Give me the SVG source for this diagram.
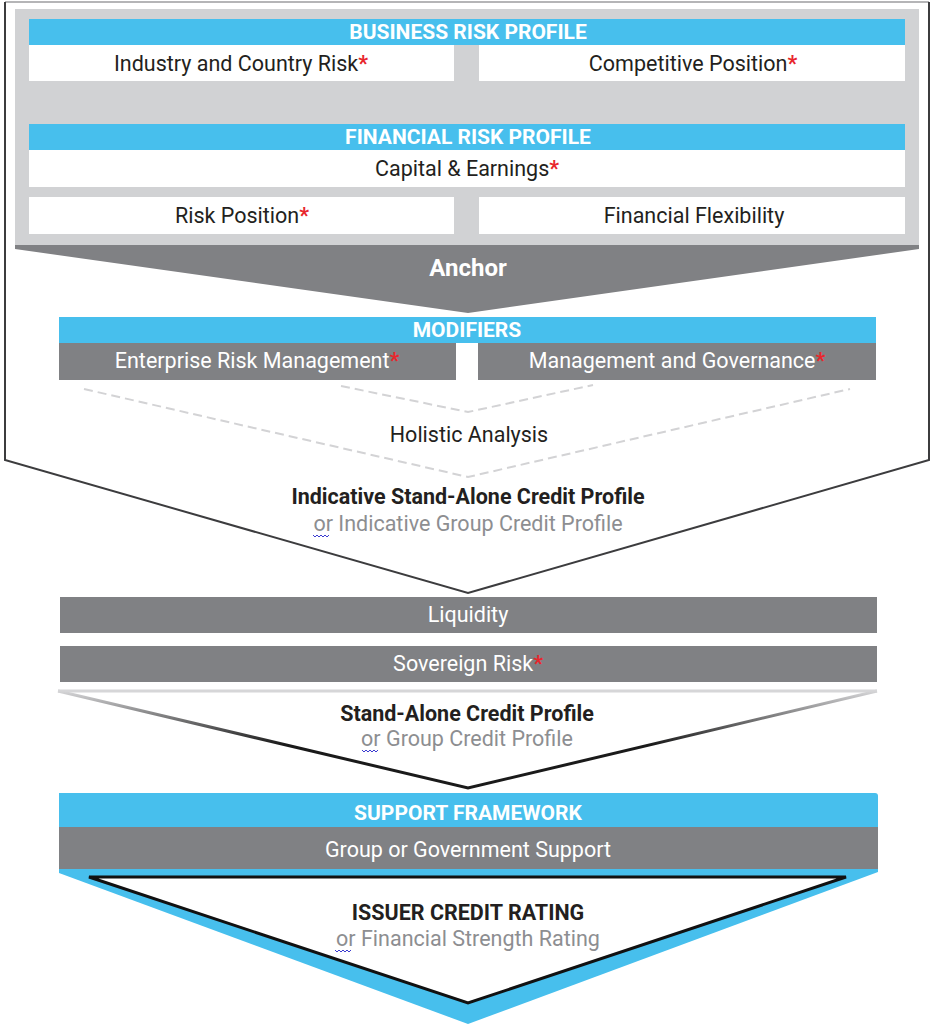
<svg xmlns="http://www.w3.org/2000/svg" width="931" height="1025" viewBox="0 0 931 1025">
<defs>
<style>
text{font-family:Roboto,"Liberation Sans",Arial,sans-serif;text-anchor:middle}
.hdr{font-size:21px;font-weight:700;fill:#ffffff}
.wt{font-size:21.5px;fill:#231f20}
.gt{font-size:21.5px;fill:#ffffff}
.bt{font-size:21.5px;font-weight:700;fill:#231f20}
.st{font-size:21.5px;fill:#8d8e91}
.ast{fill:#e8262c;font-weight:700}
.blue{fill:#47bfed}
.grey{fill:#808184}
.white{fill:#ffffff}
.dash{fill:none;stroke:#d3d3d5;stroke-width:2;stroke-dasharray:9 5}
.squig{fill:none;stroke:#3b3bd0;stroke-width:1}
</style>
<linearGradient id="fade" gradientUnits="userSpaceOnUse" x1="0" y1="691" x2="0" y2="745">
<stop offset="0" stop-color="#d6d6d8"/>
<stop offset="1" stop-color="#1a1a1a"/>
</linearGradient>
</defs>

<g id="outer-frame">
<polygon points="5,2 929,2 929,460 468,593 5,460" fill="#ffffff" stroke="none"/>
<polyline points="5,2 929,2" fill="none" stroke="#b5b5b7" stroke-width="2"/>
<polyline points="929,2 929,460 468,593 5,460 5,2" fill="none" stroke="#3c3c3e" stroke-width="2"/>
</g>

<g id="top-panel">
<rect x="15" y="9" width="904" height="237" fill="#d1d2d4"/>
</g>

<g id="business-risk-profile">
<rect class="blue" x="29" y="19" width="876" height="26"/>
<text class="hdr" x="468" y="39">BUSINESS RISK PROFILE</text>
</g>
<g id="industry-country-risk">
<rect class="white" x="29" y="45" width="425" height="36"/>
<text class="wt" x="241" y="71">Industry and Country Risk<tspan class="ast">*</tspan></text>
</g>
<g id="competitive-position">
<rect class="white" x="479" y="45" width="426" height="36"/>
<text class="wt" x="693" y="71">Competitive Position<tspan class="ast">*</tspan></text>
</g>

<g id="financial-risk-profile">
<rect class="blue" x="29" y="124" width="876" height="26"/>
<text class="hdr" x="468" y="144">FINANCIAL RISK PROFILE</text>
</g>
<g id="capital-earnings">
<rect class="white" x="29" y="150" width="876" height="37"/>
<text class="wt" x="467" y="176">Capital &amp; Earnings<tspan class="ast">*</tspan></text>
</g>
<g id="risk-position">
<rect class="white" x="29" y="197" width="425" height="37"/>
<text class="wt" x="242" y="223">Risk Position<tspan class="ast">*</tspan></text>
</g>
<g id="financial-flexibility">
<rect class="white" x="479" y="197" width="426" height="37"/>
<text class="wt" x="694" y="223">Financial Flexibility</text>
</g>

<g id="anchor">
<polygon class="grey" points="15,245 919,245 919,249 468,313 15,249"/>
<text x="468" y="276" style="font-size:24px;font-weight:700;fill:#ffffff">Anchor</text>
</g>

<g id="modifiers">
<rect class="blue" x="59" y="317" width="817" height="26"/>
<text class="hdr" x="467" y="337">MODIFIERS</text>
</g>
<g id="enterprise-risk-management">
<rect class="grey" x="59" y="343" width="397" height="37"/>
<text class="gt" x="257" y="368">Enterprise Risk Management<tspan class="ast">*</tspan></text>
</g>
<g id="management-governance">
<rect class="grey" x="478" y="343" width="398" height="37"/>
<text class="gt" x="677" y="368">Management and Governance<tspan class="ast">*</tspan></text>
</g>

<g id="connectors">
<polyline class="dash" points="84,389 468,477 850,389"/>
<polyline class="dash" points="341,386 468,412 593,385"/>
</g>

<g id="holistic-analysis">
<text class="wt" x="469" y="442">Holistic Analysis</text>
</g>

<g id="indicative-sacp">
<text class="bt" x="468" y="504">Indicative Stand-Alone Credit Profile</text>
<text class="st" x="468" y="531">or Indicative Group Credit Profile</text>
<path class="squig" d="M313,535 l2,2 l2,-2 l2,2 l2,-2 l2,2 l2,-2 l2,2 l2,-2"/>
</g>

<g id="liquidity">
<rect class="grey" x="60" y="597" width="817" height="36"/>
<text class="gt" x="468" y="622">Liquidity</text>
</g>
<g id="sovereign-risk">
<rect class="grey" x="60" y="646" width="817" height="36"/>
<text class="gt" x="468" y="671">Sovereign Risk<tspan class="ast">*</tspan></text>
</g>

<g id="sacp">
<line x1="58" y1="691" x2="877" y2="691" stroke="#d6d6d8" stroke-width="3"/>
<polyline points="58,691 468,788 877,691" fill="none" stroke="url(#fade)" stroke-width="3"/>
<text class="bt" x="467" y="721">Stand-Alone Credit Profile</text>
<text class="st" x="467" y="746">or Group Credit Profile</text>
<path class="squig" d="M362,750 l2,2 l2,-2 l2,2 l2,-2 l2,2 l2,-2 l2,2 l2,-2"/>
</g>

<g id="support-framework">
<path class="blue" d="M59,793 H875 Q878,793 878,796 V872 L468,1024 L59,873 Z"/>
<text class="hdr" x="468" y="820">SUPPORT FRAMEWORK</text>
</g>
<g id="group-government-support">
<rect class="grey" x="59" y="827" width="819" height="42"/>
<text class="gt" x="468" y="857">Group or Government Support</text>
</g>

<g id="issuer-credit-rating">
<polygon points="89,877 846,877 468,1003" fill="#ffffff" stroke="#111111" stroke-width="3" stroke-linejoin="miter"/>
<text class="bt" x="468" y="920">ISSUER CREDIT RATING</text>
<text class="st" x="468" y="946">or Financial Strength Rating</text>
<path class="squig" d="M335,950 l2,2 l2,-2 l2,2 l2,-2 l2,2 l2,-2 l2,2 l2,-2"/>
</g>
</svg>
